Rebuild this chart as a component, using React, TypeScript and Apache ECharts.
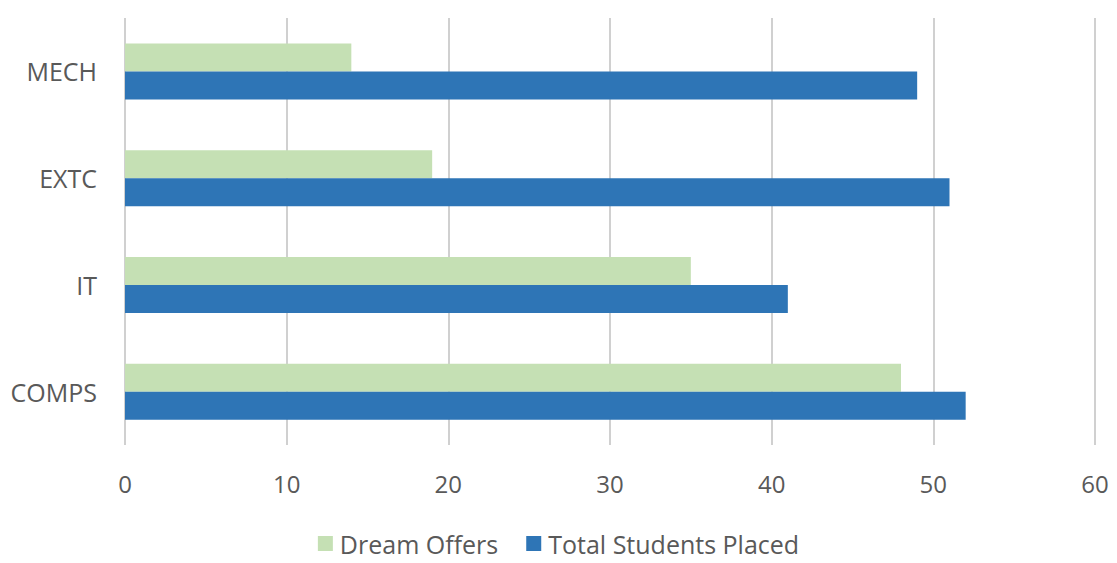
import React, { useEffect, useRef } from "react";
import * as echarts from "echarts";

const categories = ["COMPS", "IT", "EXTC", "MECH"];
const dreamOffers = [48, 35, 19, 14];
const totalPlaced = [52, 41, 51, 49];
const seriesNames = ["Dream Offers", "Total Students Placed"];

export default function App() {
  const ref = useRef<HTMLDivElement>(null);
  useEffect(() => {
    if (!ref.current) return;
    const chart = echarts.init(ref.current, null, { renderer: "svg" });
    const font = "'Open Sans', sans-serif";
    chart.setOption({
      animation: false,
      backgroundColor: "#ffffff",
      textStyle: { fontFamily: font },
      grid: { left: 125, right: 22, top: 18, bottom: 118 },
      legend: {
        data: seriesNames,
        bottom: 2,
        left: "center",
        itemWidth: 15,
        itemHeight: 15,
        itemGap: 28,
        icon: "rect",
        textStyle: { color: "#595959", fontSize: 25, fontFamily: font, padding: [0, 0, 0, 2] },
      },
      xAxis: {
        type: "value",
        min: 0,
        max: 60,
        interval: 10,
        axisLine: { show: false },
        axisTick: { show: false },
        axisLabel: { color: "#595959", fontSize: 24, margin: 26, fontFamily: font },
        splitLine: { show: true, lineStyle: { color: "#d0d0d0", width: 2 } },
      },
      yAxis: {
        type: "category",
        data: categories,
        axisLine: { show: false },
        axisTick: { show: false },
        axisLabel: { color: "#595959", fontSize: 25, margin: 28, fontFamily: font },
      },
      series: [
        {
          name: seriesNames[0],
          type: "bar",
          data: dreamOffers,
          barWidth: 28,
          barGap: "0%",
          itemStyle: { color: "#c5e0b4" },
        },
        {
          name: seriesNames[1],
          type: "bar",
          data: totalPlaced,
          barWidth: 28,
          barGap: "0%",
          itemStyle: { color: "#2e75b6" },
        },
      ],
    });
    return () => chart.dispose();
  }, []);
  return (
    <div
      ref={ref}
      style={{ position: "fixed", left: 0, top: 0, width: 1117, height: 563 }}
    />
  );
}
